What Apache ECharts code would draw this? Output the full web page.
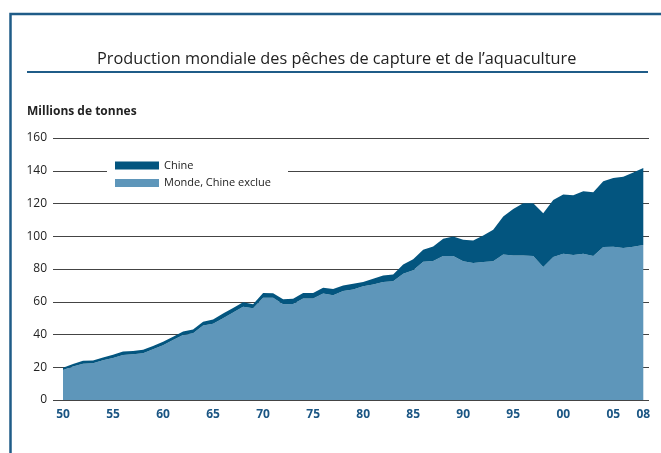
<!DOCTYPE html>
<html>
<head>
<meta charset="utf-8">
<script src="https://cdn.jsdelivr.net/npm/echarts@6/dist/echarts.min.js"></script>
<style>
html,body{margin:0;padding:0;background:#fff;}
#chart{width:661px;height:453px;}
</style>
</head>
<body>
<div id="chart"></div>
<script>
const years = [1950,1951,1952,1953,1954,1955,1956,1957,1958,1959,1960,1961,1962,1963,1964,1965,1966,1967,1968,1969,1970,1971,1972,1973,1974,1975,1976,1977,1978,1979,1980,1981,1982,1983,1984,1985,1986,1987,1988,1989,1990,1991,1992,1993,1994,1995,1996,1997,1998,1999,2000,2001,2002,2003,2004,2005,2006,2007,2008];
const mondeHorsChine = [18.3,20.5,22.2,22.5,24.2,25.7,27.5,28.0,28.5,31.0,33.5,36.6,39.7,40.7,45.5,46.5,50.0,53.5,57.0,56.0,62.5,62.5,58.5,58.7,62.0,62.0,65.0,64.0,66.5,67.5,69.4,70.6,72.0,72.5,77.1,79.2,84.4,84.9,88.0,88.0,84.7,83.6,84.2,84.8,88.9,88.3,88.3,87.9,81.2,87.3,89.3,88.5,89.3,87.9,93.4,93.6,92.8,93.6,94.6];
const chine = [1.4,1.5,1.7,1.6,1.8,1.9,2.1,2.0,2.2,2.0,2.0,2.0,2.1,2.3,2.3,2.7,2.8,2.7,2.7,2.5,2.9,2.7,3.0,3.2,3.4,3.4,3.6,3.8,3.5,3.5,2.6,3.5,4.1,4.2,5.7,6.7,7.3,8.9,10.5,11.9,13.2,13.8,16.3,19.2,23.1,28.4,31.9,32.3,32.8,34.9,36.2,36.5,38.2,39.0,40.2,42.0,43.6,45.4,47.1];
const xTickYears = [1950,1955,1960,1965,1970,1975,1980,1985,1990,1995,2000,2005,2008];

const darkBlue = '#03557f';
const lightBlue = '#5e96ba';
const frameBlue = '#1f5c88';

const chart = echarts.init(document.getElementById('chart'));
chart.setOption({
  animation: false,
  backgroundColor: '#fff',
  textStyle: { fontFamily: 'Open Sans' },
  title: [
    { text: 'Production mondiale des pêches de capture et de l\u2019aquaculture',
      left: 92, top: 46,
      textStyle: { fontSize: 16.3, fontWeight: 'normal', color: '#222', fontFamily: 'Open Sans' } },
    { text: 'Millions de tonnes', left: 22, top: 101,
      textStyle: { fontSize: 12, fontWeight: 'bold', color: '#222', fontFamily: 'Open Sans' } }
  ],
  legend: {
    left: 107, top: 154, orient: 'vertical',
    backgroundColor: '#fff',
    padding: [6, 17, 5, 8],
    itemWidth: 44, itemHeight: 8, itemGap: 6.5,
    icon: 'rect',
    textStyle: { fontSize: 11, color: '#222', fontFamily: 'Open Sans' },
    data: ['Chine', 'Monde, Chine exclue']
  },
  grid: { left: 53, right: 12, top: 138, bottom: 53 },
  xAxis: {
    type: 'value', min: 1949, max: 2008.57,
    axisLine: { show: false }, axisTick: { show: false }, splitLine: { show: false },
    axisLabel: {
      customValues: xTickYears, margin: 9,
      fontSize: 12, fontWeight: 'bold', color: '#1a5583', fontFamily: 'Open Sans',
      formatter: v => String(v % 100).padStart(2, '0')
    }
  },
  yAxis: {
    type: 'value', min: 0, max: 160, interval: 20,
    axisLine: { show: false }, axisTick: { show: false },
    splitLine: { lineStyle: { color: '#444', width: 1 } },
    axisLabel: { fontSize: 12, color: '#222', margin: 6, fontFamily: 'Open Sans' }
  },
  series: [
    { name: 'Monde, Chine exclue', type: 'line', symbol: 'none', stack: 'total',
      encode: { x: 1, y: 0 },
      data: years.map((y, i) => [mondeHorsChine[i], y]),
      lineStyle: { width: 0 }, itemStyle: { color: lightBlue },
      areaStyle: { color: lightBlue, opacity: 1 } },
    { name: 'Chine', type: 'line', symbol: 'none', stack: 'total',
      encode: { x: 1, y: 0 },
      data: years.map((y, i) => [chine[i], y]),
      lineStyle: { width: 0 }, itemStyle: { color: darkBlue },
      areaStyle: { color: darkBlue, opacity: 1 } }
  ],
  graphic: [
    { type: 'polyline', shape: { points: [[661, 14], [10.5, 14], [10.5, 453]] },
      style: { stroke: frameBlue, lineWidth: 2.5, fill: null } },
    { type: 'line', shape: { x1: 27, y1: 72, x2: 648, y2: 72 },
      style: { stroke: frameBlue, lineWidth: 2 } }
  ]
});
</script>
</body>
</html>
